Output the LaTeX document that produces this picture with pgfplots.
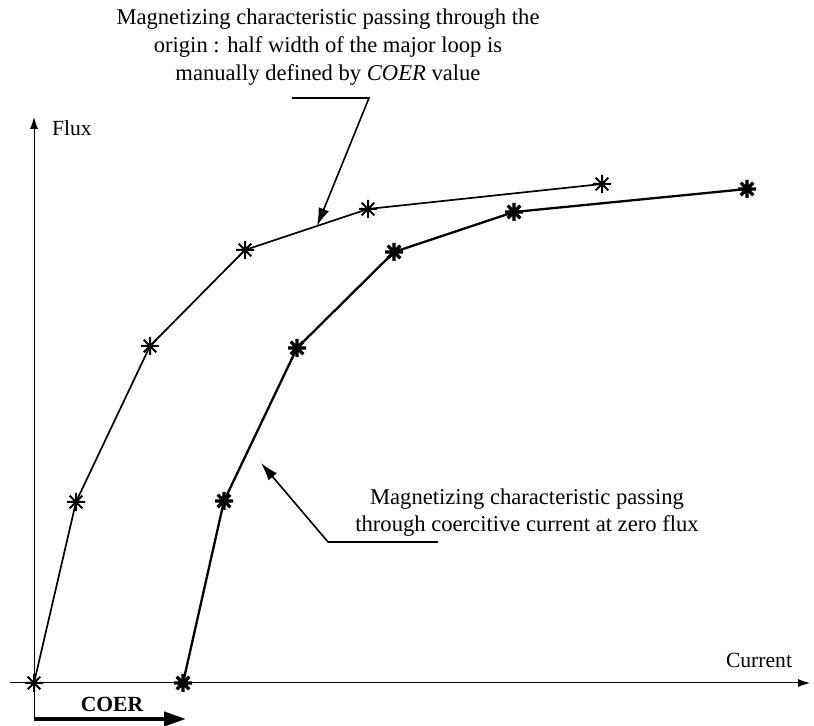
\documentclass[border=0pt]{standalone}
\usepackage{fontspec}
\setmainfont{Liberation Serif}
\usepackage{pgfplots}
\pgfplotsset{compat=1.18}
\usetikzlibrary{arrows.meta}

% eight-armed asterisk used for the measured points
\pgfdeclareplotmark{asterisk8}{%
  \pgfpathmoveto{\pgfqpoint{-\pgfplotmarksize}{0pt}}%
  \pgfpathlineto{\pgfqpoint{\pgfplotmarksize}{0pt}}%
  \pgfpathmoveto{\pgfqpoint{0pt}{-\pgfplotmarksize}}%
  \pgfpathlineto{\pgfqpoint{0pt}{\pgfplotmarksize}}%
  \pgfpathmoveto{\pgfqpoint{-.707\pgfplotmarksize}{-.707\pgfplotmarksize}}%
  \pgfpathlineto{\pgfqpoint{.707\pgfplotmarksize}{.707\pgfplotmarksize}}%
  \pgfpathmoveto{\pgfqpoint{-.707\pgfplotmarksize}{.707\pgfplotmarksize}}%
  \pgfpathlineto{\pgfqpoint{.707\pgfplotmarksize}{-.707\pgfplotmarksize}}%
  \pgfusepathqstroke}

\begin{document}
\begin{tikzpicture}
\begin{axis}[
  hide axis, clip=false, scale only axis,
  width=407pt, height=362.5pt,
  xmin=-34, xmax=780, ymin=-42, ymax=683,
  font=\fontsize{10.8}{13.5}\selectfont,
]
% fixed drawing area
\path (axis cs:-34,-42) rectangle (axis cs:780,683);

% curve through the origin
\addplot[black, line width=0.85pt, mark=asterisk8, mark size=4.5pt,
         mark options={line width=1.0pt}]
  coordinates {(0,0) (42,181) (116,337) (211,433) (334,474) (568,499)};
% curve through the coercive current
\addplot[black, line width=1.15pt, mark=asterisk8, mark size=4.5pt,
         mark options={line width=1.6pt}]
  coordinates {(149,0) (190,182) (263,335) (360,431) (480,471) (713,494)};

% axes
\draw[line width=0.5pt, -{Latex[length=6pt,width=4pt]}]
  (axis cs:-24,0) -- (axis cs:776,0);
\draw[line width=0.5pt, -{Latex[length=6pt,width=4pt]}]
  (axis cs:0,-36) -- (axis cs:0,566);
\node[anchor=west] at (axis cs:11,555) {Flux};
\node at (axis cs:725,23) {Current};

% coercive current
\draw[line width=2pt, -{Triangle[length=11pt,width=7pt]}]
  (axis cs:0,-36) -- (axis cs:152,-36);
\node[font=\fontsize{10.8}{13}\selectfont\bfseries] at (axis cs:78,-21) {COER};

% annotations
\node[align=center, font=\fontsize{11.3}{14}\selectfont] at (axis cs:294,636)
  {Magnetizing characteristic passing through the\\
   origin : half width of the major loop is\\
   manually defined by \textit{COER} value};
\draw[line width=0.8pt, -{Latex[length=9pt,width=5.5pt]}]
  (axis cs:258,585) -- (axis cs:335,585) -- (axis cs:283,457);

\node[align=center, font=\fontsize{11.3}{13.5}\selectfont] at (axis cs:493,170)
  {Magnetizing characteristic passing\\
   through coercitive current at zero flux};
\draw[line width=0.8pt, -{Latex[length=9pt,width=5.5pt]}]
  (axis cs:404,141) -- (axis cs:294,141) -- (axis cs:227,220);
\end{axis}
\end{tikzpicture}
\end{document}
